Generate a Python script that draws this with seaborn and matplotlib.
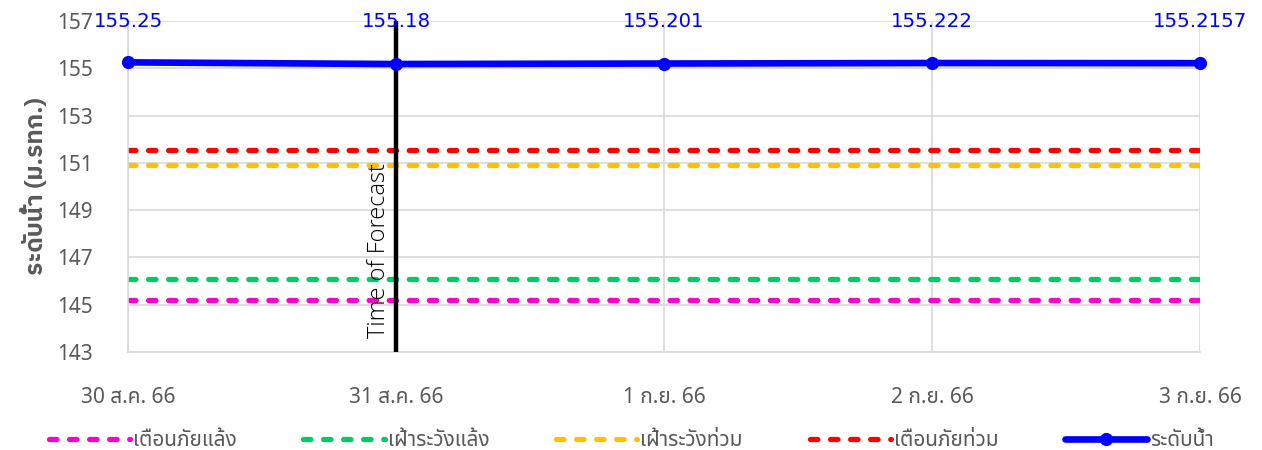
import matplotlib
matplotlib.use("Agg")
import matplotlib.pyplot as plt
import matplotlib.transforms as mtransforms
from matplotlib.lines import Line2D
import seaborn as sns
import pandas as pd

# ---- data ----
categories = ["30 ส.ค. 66", "31 ส.ค. 66", "1 ก.ย. 66", "2 ก.ย. 66", "3 ก.ย. 66"]
water_level = [155.25, 155.18, 155.201, 155.222, 155.2157]
water_labels = ["155.25", "155.18", "155.201", "155.222", "155.2157"]
drought_warning = [145.2, 145.2, 145.2, 145.2, 145.2]
drought_watch = [146.1, 146.1, 146.1, 146.1, 146.1]
flood_watch = [150.9, 150.9, 150.9, 150.9, 150.9]
flood_warning = [151.55, 151.55, 151.55, 151.55, 151.55]
forecast_index = 1
y_ticks = [143, 145, 147, 149, 151, 153, 155, 157]

series_names = ["เตือนภัยแล้ง", "เฝ้าระวังแล้ง", "เฝ้าระวังท่วม", "เตือนภัยท่วม", "ระดับน้ำ"]
colors = ["#FF00CC", "#00CC66", "#FFC000", "#FF0000", "#0000FF"]

sns.set_theme(style="white")
plt.rcParams["font.family"] = ["Noto Sans Thai", "DejaVu Sans"]

x = list(range(len(categories)))
df = pd.DataFrame({"x": x, "level": water_level})

fig = plt.figure(figsize=(12.62, 4.5), dpi=100)
ax = fig.add_axes([128 / 1262, 1 - 352 / 450, (1200 - 128) / 1262, (352 - 21) / 450])

grey_txt = "#595959"
grid_c = "#D9D9D9"

ax.set_xlim(0, 4)
ax.set_ylim(143, 157)
ax.set_yticks(y_ticks)
ax.set_xticks(x)
ax.set_xticklabels(categories)
ax.grid(True, color=grid_c, lw=1.2)
ax.set_axisbelow(True)
for s in ["top", "right"]:
    ax.spines[s].set_visible(False)
for s in ["left", "bottom"]:
    ax.spines[s].set_color(grid_c)
    ax.spines[s].set_linewidth(1.2)

DASH = (1.4, 2.4)
thresholds = [drought_warning, drought_watch, flood_watch, flood_warning]
for vals, name, c in zip(thresholds, series_names[:4], colors[:4]):
    sns.lineplot(x=x, y=vals, ax=ax, color=c, lw=3.8, legend=False)
    ax.lines[-1].set_dashes(DASH)
    ax.lines[-1].set_dash_capstyle("round")

# forecast line
ax.axvline(forecast_index, color="black", lw=3.2, zorder=4)
offset = mtransforms.offset_copy(ax.transData, fig=fig, x=-5, y=0, units="dots")
ax.text(forecast_index, 143.6, "Time of Forecast", rotation=90, ha="right",
        va="bottom", fontsize=17, color="black", transform=offset,
        fontweight="light", family=["Open Sans", "DejaVu Sans"])

sns.lineplot(data=df, x="x", y="level", ax=ax, color=colors[4], lw=4.8,
             marker="o", markersize=9.5, markeredgewidth=0, legend=False, zorder=5)
ax.lines[-1].set_clip_on(False)

# data labels
blend = mtransforms.blended_transform_factory(ax.transData, ax.transAxes)
for xi, lab in zip(x, water_labels):
    ax.text(xi, 1.0, lab, transform=blend, ha="center", va="center",
            color="#0000FF", fontsize=14.2, zorder=6, family="DejaVu Sans")

ax.tick_params(axis="both", length=0, labelsize=15, labelcolor=grey_txt)
ax.tick_params(axis="y", pad=25)
ax.tick_params(axis="x", pad=25)
ax.set_xlabel("")
ax.set_ylabel("ระดับน้ำ (ม.รทก.)", fontsize=17.5, fontweight="bold",
              color=grey_txt, labelpad=7, family=["IBM Plex Sans Thai", "DejaVu Sans"])

handles = []
for name, c in zip(series_names[:4], colors[:4]):
    handles.append(Line2D([0], [0], color=c, lw=3.8, dashes=DASH, dash_capstyle="round"))
handles.append(Line2D([0], [0], color=colors[4], lw=4.8, marker="o",
                      markersize=9.5, markeredgewidth=0))
leg = fig.legend(handles, series_names, loc="lower center", ncol=5,
                 bbox_to_anchor=(0.5, -0.045), frameon=False, fontsize=15,
                 handlelength=3.9, handletextpad=0.15, columnspacing=3.2,
                 labelcolor=grey_txt)

fig.savefig("out.png", dpi=100)
